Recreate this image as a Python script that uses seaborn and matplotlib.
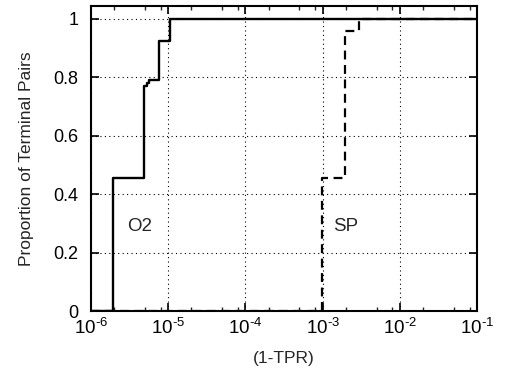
import numpy as np
import pandas as pd
import matplotlib
matplotlib.use("Agg")
import matplotlib.pyplot as plt
import seaborn as sns
from matplotlib.ticker import LogLocator, NullFormatter

# Data (step CDFs)
o2_x = [1e-6, 1.92e-6, 4.84e-6, 5.25e-6, 5.7e-6, 7.6e-6, 1.05e-5, 1e-1]
o2_y = [0.0, 0.455, 0.772, 0.78, 0.791, 0.926, 1.0, 1.0]
sp_x = [1e-6, 9.8e-4, 1.95e-3, 2.95e-3, 1e-1]
sp_y = [0.0, 0.455, 0.96, 1.0, 1.0]
y_ticks = [0, 0.2, 0.4, 0.6, 0.8, 1]
y_tick_labels = ["0", "0.2", "0.4", "0.6", "0.8", "1"]
x_ticks = [1e-6, 1e-5, 1e-4, 1e-3, 1e-2, 1e-1]
x_tick_labels = ["10$^{\\text{-6}}$", "10$^{\\text{-5}}$", "10$^{\\text{-4}}$",
                 "10$^{\\text{-3}}$", "10$^{\\text{-2}}$", "10$^{\\text{-1}}$"]

sns.set_style("ticks")
plt.rcParams["font.family"] = ["Liberation Sans", "DejaVu Sans"]
plt.rcParams["mathtext.fontset"] = "custom"
plt.rcParams["mathtext.rm"] = "Liberation Sans"
plt.rcParams["mathtext.it"] = "Liberation Sans"
plt.rcParams["mathtext.default"] = "regular"

fig = plt.figure(figsize=(5.05, 3.76), dpi=100)
ax = fig.add_axes([91/505, 1 - 311/376, (477 - 91)/505, (311 - 5.5)/376])

df_o2 = pd.DataFrame({"x": o2_x, "y": o2_y})
df_sp = pd.DataFrame({"x": sp_x, "y": sp_y})
sns.lineplot(data=df_sp, x="x", y="y", ax=ax, color="black", lw=1.6,
             drawstyle="steps-post", linestyle=(0, (4, 2.5)), zorder=3)
sns.lineplot(data=df_o2, x="x", y="y", ax=ax, color="black", lw=1.7,
             drawstyle="steps-post", zorder=4)

ax.set_xscale("log")
ax.set_xlim(1e-6, 1e-1)
ax.set_ylim(0, 1.046)
ax.set_xticks(x_ticks)
ax.set_xticklabels(x_tick_labels)
ax.xaxis.set_minor_locator(LogLocator(base=10, subs=[2, 5, 8], numticks=20))
ax.xaxis.set_minor_formatter(NullFormatter())
ax.set_yticks(y_ticks)
ax.set_yticklabels(y_tick_labels)

ax.grid(True, which="major", color="black", linestyle=(0, (1, 3)), linewidth=0.8)
ax.tick_params(which="major", direction="in", length=6, width=1.2, top=True, right=True,
               labelsize=13, colors="black")
ax.tick_params(axis="x", which="major", labelsize=13.5, pad=5)
ax.tick_params(axis="y", which="major", pad=9)
ax.tick_params(which="minor", direction="in", length=3, width=1.0, top=True, right=True)
for s in ax.spines.values():
    s.set_linewidth(1.5)
    s.set_color("black")

ax.set_xlabel("(1-TPR)", fontsize=12.5)
ax.set_ylabel("Proportion of Terminal Pairs", fontsize=12.5)
ax.xaxis.set_label_coords(0.5, -0.13)
ax.yaxis.set_label_coords(-0.148, 0.5)

ax.text(4.3e-6, 0.288, "O2", fontsize=13.5, ha="center", va="center")
ax.text(2.0e-3, 0.288, "SP", fontsize=13.5, ha="center", va="center")

fig.savefig("out.png", dpi=100)
